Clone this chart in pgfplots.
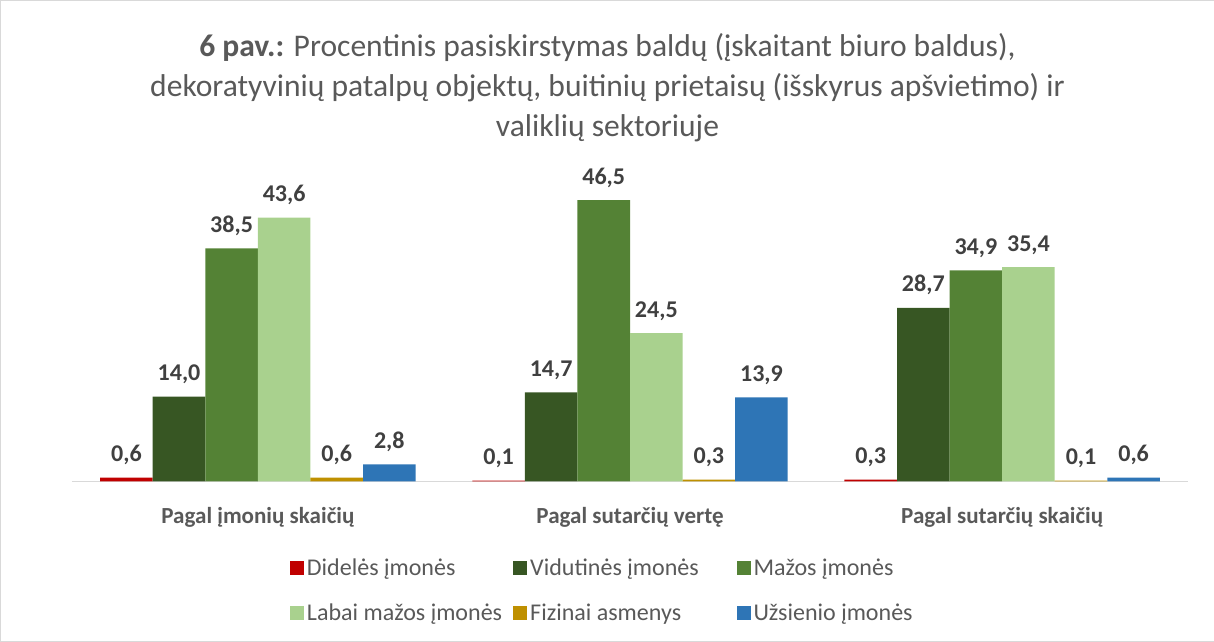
\documentclass[border=0pt]{standalone}
\usepackage{fontspec}
\setmainfont{Carlito}
\usepackage{pgfplots}
\pgfplotsset{compat=1.18}

\definecolor{cDid}{HTML}{C00000}
\definecolor{cVid}{HTML}{375623}
\definecolor{cMaz}{HTML}{548235}
\definecolor{cLab}{HTML}{A9D18E}
\definecolor{cFiz}{HTML}{BF9000}
\definecolor{cUzs}{HTML}{2E75B6}
\definecolor{txtgray}{HTML}{595959}
\definecolor{lblgray}{HTML}{404040}
\definecolor{axgray}{HTML}{D9D9D9}

\newcommand{\legbox}[1]{\makebox[203pt][l]{#1}}

\begin{document}
\begin{tikzpicture}[x=1pt,y=1pt]
\draw[axgray] (0.5,0.5) rectangle (1212.5,640.5);
\node[align=center, text=txtgray, font=\fontsize{31.5}{40}\selectfont] at (607,553)
  {\textbf{6 pav.:} Procentinis pasiskirstymas baldų (įskaitant biuro baldus),\\
   dekoratyvinių patalpų objektų, buitinių prietaisų (išskyrus apšvietimo) ir\\
   valiklių sektoriuje};
\begin{axis}[
    at={(72pt,160pt)}, anchor=south west,
    scale only axis,
    width=1115pt, height=302pt,
    ybar=0pt,
    bar width=52.5pt,
    xmin=-0.5, xmax=2.5,
    ymin=0, ymax=50,
    xtick={0,1,2},
    xticklabels={Pagal įmonių skaičių, Pagal sutarčių vertę, Pagal sutarčių skaičių},
    xticklabel style={font=\fontsize{23}{27}\selectfont\bfseries, text=txtgray, yshift=-22pt},
    major tick length=0pt,
    ytick=\empty,
    axis x line*=bottom,
    axis y line=none,
    x axis line style={axgray, line width=1pt, -},
    nodes near coords,
    every node near coord/.append style={font=\fontsize{24}{28}\selectfont\bfseries,
      text=lblgray, yshift=9pt,
      /pgf/number format/assume math mode=true,
      /pgf/number format/fixed, /pgf/number format/fixed zerofill,
      /pgf/number format/precision=1, /pgf/number format/use comma},
    legend columns=3,
    legend cell align=left,
    legend style={draw=none, fill=none, font=\fontsize{24}{28}\selectfont, text=txtgray,
      at={(0.1925,-0.361)}, anchor=west,
      nodes={inner xsep=3pt},
      /tikz/every even column/.append style={column sep=0pt},
      row sep=22pt},
    legend image code/.code={\fill[#1] (0pt,-7pt) rectangle (14pt,7pt);},
]
\addplot[fill=cDid, draw=none] coordinates {(0,0.6) (1,0.1) (2,0.3)};
\addplot[fill=cVid, draw=none] coordinates {(0,14.0) (1,14.7) (2,28.7)};
\addplot[fill=cMaz, draw=none] coordinates {(0,38.5) (1,46.5) (2,34.9)};
\addplot[fill=cLab, draw=none] coordinates {(0,43.6) (1,24.5) (2,35.4)};
\addplot[fill=cFiz, draw=none] coordinates {(0,0.6) (1,0.3) (2,0.1)};
\addplot[fill=cUzs, draw=none] coordinates {(0,2.8) (1,13.9) (2,0.6)};
\legend{\legbox{Didelės įmonės}, \legbox{Vidutinės įmonės}, \legbox{Mažos įmonės}, \legbox{Labai mažos įmonės}, \legbox{Fizinai asmenys}, \legbox{Užsienio įmonės}}
\end{axis}
\end{tikzpicture}
\end{document}
